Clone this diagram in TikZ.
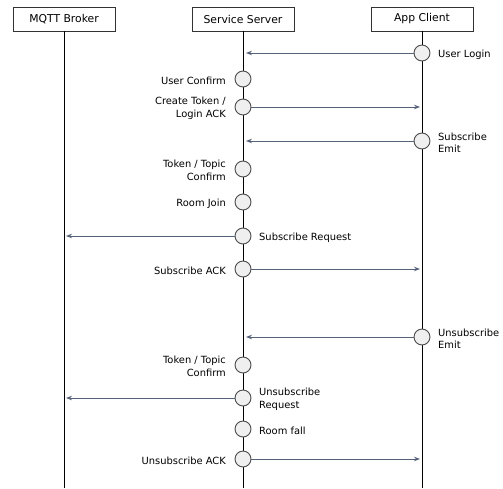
\documentclass[tikz,border=0pt]{standalone}
\usepackage{fontspec}
\setmainfont{DejaVu Sans}
\usetikzlibrary{arrows.meta}
\definecolor{msgcol}{HTML}{56627A}
\definecolor{evfill}{HTML}{EFEFEF}
\begin{document}
\begin{tikzpicture}[x=1pt,y=-1pt,
  actor/.style={draw=black!80, line width=0.8pt, minimum width=102pt, minimum height=24pt, inner sep=0pt, font=\fontsize{10.8}{12}\selectfont},
  ev/.style={circle, draw=black!70, fill=evfill, line width=0.9pt, minimum size=16pt, inner sep=0pt},
  lblL/.style={anchor=east, align=right, inner sep=0pt, yshift=-1.5pt, font=\fontsize{9.9}{12.5}\selectfont},
  lblR/.style={anchor=west, align=left, inner sep=0pt, yshift=-1.5pt, font=\fontsize{9.9}{12.5}\selectfont},
  life/.style={draw=black, line width=0.9pt},
  msg/.style={draw=msgcol, line width=0.9pt, -{Stealth[length=6pt,width=4.5pt]}}]
\useasboundingbox (0,0) rectangle (503,488);
% actors
\node[actor] (mq) at (64,19) {MQTT Broker};
\node[actor] (ss) at (243,19) {Service Server};
\node[actor] (ac) at (422,19) {App Client};
\coordinate (mqb) at (64,488);
\coordinate (ssb) at (243,488);
\coordinate (acb) at (422,488);
\draw[life] (mq.south) -- (mqb);
\draw[life] (ss.south) -- (ssb);
\draw[life] (ac.south) -- (acb);
% events
\node[ev] (a1) at (422,53) {};
\node[ev] (s1) at (243,79) {};
\node[ev] (s2) at (243,107) {};
\node[ev] (a2) at (422,141) {};
\node[ev] (s3) at (243,169) {};
\node[ev] (s4) at (243,202) {};
\node[ev] (s5) at (243,236) {};
\node[ev] (s6) at (243,269) {};
\node[ev] (a3) at (422,337) {};
\node[ev] (s7) at (243,365) {};
\node[ev] (s8) at (243,398) {};
\node[ev] (s9) at (243,429) {};
\node[ev] (s10) at (243,459) {};
% arrow targets on lifelines
\coordinate (t1) at (246,53);
\coordinate (t2) at (420,107);
\coordinate (t3) at (246,141);
\coordinate (t4) at (66,236);
\coordinate (t5) at (420,269);
\coordinate (t6) at (246,337);
\coordinate (t7) at (66,398);
\coordinate (t8) at (420,459);
% messages
\draw[msg] (a1.west) -- (t1);
\draw[msg] (s2.east) -- (t2);
\draw[msg] (a2.west) -- (t3);
\draw[msg] (s5.west) -- (t4);
\draw[msg] (s6.east) -- (t5);
\draw[msg] (a3.west) -- (t6);
\draw[msg] (s8.west) -- (t7);
\draw[msg] (s10.east) -- (t8);
% labels
\node[lblR] (l1) at (438,53) {User Login};
\node[lblL] (l2) at (226,79) {User Confirm};
\node[lblL] (l3) at (226,107) {Create Token /\\Login ACK};
\node[lblR] (l4) at (438,141) {Subscribe\\Emit};
\node[lblL] (l5) at (226,169) {Token / Topic\\Confirm};
\node[lblL] (l6) at (226,202) {Room Join};
\node[lblR] (l7) at (259,236) {Subscribe Request};
\node[lblL] (l8) at (226,269) {Subscribe ACK};
\node[lblR] (l9) at (438,337) {Unsubscribe\\Emit};
\node[lblL] (l10) at (226,365) {Token / Topic\\Confirm};
\node[lblR] (l11) at (259,398) {Unsubscribe\\Request};
\node[lblR] (l12) at (259,429) {Room fall};
\node[lblL] (l13) at (226,459) {Unsubscribe ACK};
\end{tikzpicture}
\end{document}
